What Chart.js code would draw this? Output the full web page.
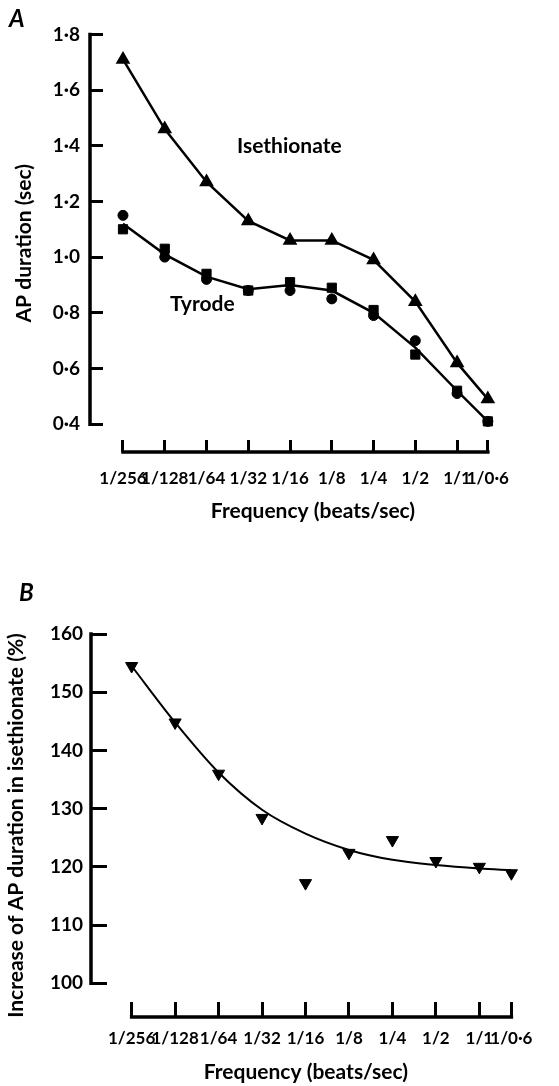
<!DOCTYPE html>
<html>
<head>
<meta charset="utf-8">
<script src="https://cdn.jsdelivr.net/npm/chart.js@4.4.0/dist/chart.umd.min.js"></script>
<style>
    body { margin: 0; background: #fff; }
    #wrap { position: relative; width: 559px; height: 1086px; font-family: Lato, sans-serif; }
    canvas { position: absolute; left: 0; }
    .lbl { position: absolute; font-size: 21px; line-height: 24px; font-weight: bold; color: #000; white-space: nowrap; }
</style>
</head>
<body>
<div id="wrap">
    <canvas id="chartA" width="559" height="530" style="top:0"></canvas>
    <canvas id="chartB" width="559" height="546" style="top:540px"></canvas>
    <div class="lbl" style="left:9px;top:6px;font-size:24px;font-style:italic">A</div>
    <div class="lbl" style="left:19px;top:580px;font-size:24px;font-style:italic">B</div>
    <div class="lbl" style="left:237px;top:133px">Isethionate</div>
    <div class="lbl" style="left:170px;top:291px">Tyrode</div>
</div>
<script>
// Frequencies (beats/sec) and their printed labels
const freqValues = [1/256, 1/128, 1/64, 1/32, 1/16, 1/8, 1/4, 1/2, 1, 1/0.6];
const freqLabels = ['1/256', '1/128', '1/64', '1/32', '1/16', '1/8', '1/4', '1/2', '1/1', '1/0·6'];

// Panel A: AP duration (sec)
const isethionateA = [1.71, 1.46, 1.27, 1.13, 1.06, 1.06, 0.99, 0.84, 0.62, 0.49];
const tyrodeLineA = [1.12, 1.01, 0.93, 0.885, 0.90, 0.88, 0.80, 0.675, 0.52, 0.41];
const tyrodeCircleA = [1.15, 1.00, 0.92, 0.88, 0.88, 0.85, 0.79, 0.70, 0.51, 0.41];
const tyrodeSquareA = [1.10, 1.03, 0.94, 0.88, 0.91, 0.89, 0.81, 0.65, 0.52, 0.41];
const yTicksA = [0.4, 0.6, 0.8, 1.0, 1.2, 1.4, 1.6, 1.8];

// Panel B: increase of AP duration in isethionate (%)
const increaseB = [154.5, 144.8, 136, 128.4, 117.2, 122.4, 124.6, 121, 120, 118.9];
const fitB = [154.5, 144.8, 136.2, 129.8, 125.7, 122.9, 121.2, 120.3, 119.7, 119.4];
const yTicksB = [100, 110, 120, 130, 140, 150, 160];

const X_TICK_FONT = { family: 'Lato, sans-serif', size: 17, weight: 'bold' };
const Y_TICK_FONT = { family: 'Lato, sans-serif', size: 19, weight: 'bold' };
const TITLE_FONT = { family: 'Lato, sans-serif', size: 21, weight: 'bold' };

function points(values) {
    return values.map((v, i) => ({ x: freqValues[i], y: v }));
}

// Draws the detached axis lines between the first and last tick
const axisLines = {
    id: 'axisLines',
    afterDraw(chart, args, opts) {
        const { ctx, chartArea, scales } = chart;
        const x = scales.x, y = scales.y;
        ctx.save();
        ctx.strokeStyle = '#000';
        ctx.lineWidth = 3.5;
        ctx.lineCap = 'square';
        ctx.beginPath();
        ctx.moveTo(chartArea.left, y.getPixelForValue(opts.yFrom));
        ctx.lineTo(chartArea.left, y.getPixelForValue(opts.yTo));
        ctx.moveTo(x.getPixelForValue(freqValues[0]), chartArea.bottom);
        ctx.lineTo(x.getPixelForValue(freqValues[freqValues.length - 1]), chartArea.bottom);
        ctx.stroke();
        ctx.restore();
    }
};

function xScale(min, max, tickLen, pad, axisHeight, titlePad) {
    return {
        type: 'logarithmic',
        min: min,
        max: max,
        afterBuildTicks: axis => { axis.ticks = freqValues.map(v => ({ value: v })); },
        afterFit: axis => { axis.height = axisHeight; },
        border: { display: false },
        grid: { drawOnChartArea: false, drawTicks: true, tickLength: tickLen, color: '#000', lineWidth: 3 },
        ticks: {
            autoSkip: false, maxRotation: 0, padding: pad, color: '#000', font: X_TICK_FONT,
            callback: (value, index) => freqLabels[index]
        },
        title: { display: true, text: 'Frequency (beats/sec)', color: '#000', font: TITLE_FONT, padding: { top: 0, bottom: titlePad } }
    };
}

function yScale(min, max, ticks, tickLen, pad, axisWidth, title, titlePad, fmt) {
    return {
        type: 'linear',
        min: min,
        max: max,
        afterBuildTicks: axis => { axis.ticks = ticks.map(v => ({ value: v })); },
        afterFit: axis => { axis.width = axisWidth; },
        border: { display: false },
        grid: { drawOnChartArea: false, drawTicks: true, tickLength: tickLen, color: '#000', lineWidth: 3 },
        ticks: { padding: pad, color: '#000', font: Y_TICK_FONT, callback: fmt },
        title: { display: true, text: title, color: '#000', font: TITLE_FONT, padding: { top: titlePad, bottom: 0 } }
    };
}

const commonOptions = {
    responsive: false,
    animation: false,
    events: [],
    plugins: { legend: { display: false }, tooltip: { enabled: false } }
};

// Panel A
new Chart(document.getElementById('chartA'), {
    type: 'line',
    data: {
        datasets: [
            {
                label: 'Isethionate',
                data: points(isethionateA),
                borderColor: '#000', backgroundColor: '#000', borderWidth: 2.5,
                pointStyle: 'triangle', pointRadius: 6, tension: 0
            },
            {
                label: 'Tyrode',
                data: points(tyrodeLineA),
                borderColor: '#000', borderWidth: 2.5, pointRadius: 0, tension: 0
            },
            {
                label: 'Tyrode (circles)',
                data: points(tyrodeCircleA),
                showLine: false, pointStyle: 'circle', pointRadius: 5,
                borderColor: '#000', backgroundColor: '#000'
            },
            {
                label: 'Tyrode (squares)',
                data: points(tyrodeSquareA),
                showLine: false, pointStyle: 'rect', pointRadius: 6.5,
                borderColor: '#000', backgroundColor: '#000'
            }
        ]
    },
    options: {
        ...commonOptions,
        clip: false,
        layout: { padding: { top: 15, right: 23, left: 0, bottom: 0 } },
        scales: {
            x: xScale(Math.pow(2, -8.79), Math.pow(2, 1.89), -12, 28, 78, 6),
            y: yScale(0.3, 1.8, yTicksA, -13, 23, 90, 'AP duration (sec)', 12,
                v => v.toFixed(1).replace('.', '·'))
        },
        plugins: { ...commonOptions.plugins, axisLines: { yFrom: 1.8, yTo: 0.4 } }
    },
    plugins: [axisLines]
});

// Panel B
new Chart(document.getElementById('chartB'), {
    type: 'line',
    data: {
        datasets: [
            {
                label: 'Fitted curve',
                data: points(fitB),
                borderColor: '#000', borderWidth: 2, pointRadius: 0,
                cubicInterpolationMode: 'monotone'
            },
            {
                label: 'Increase in isethionate',
                data: points(increaseB),
                showLine: false, pointStyle: 'triangle', rotation: 180, pointRadius: 7,
                borderColor: '#000', backgroundColor: '#000'
            }
        ]
    },
    options: {
        ...commonOptions,
        clip: false,
        layout: { padding: { top: 94, right: 24, left: 0, bottom: 0 } },
        scales: {
            x: xScale(Math.pow(2, -8.935), Math.pow(2, 0.953), -15, 26, 69, 1),
            y: yScale(94.2, 160, yTicksB, -16, 24, 91, 'Increase of AP duration in isethionate (%)', 4,
                v => String(v))
        },
        plugins: { ...commonOptions.plugins, axisLines: { yFrom: 160, yTo: 100 } }
    },
    plugins: [axisLines]
});
</script>
</body>
</html>
